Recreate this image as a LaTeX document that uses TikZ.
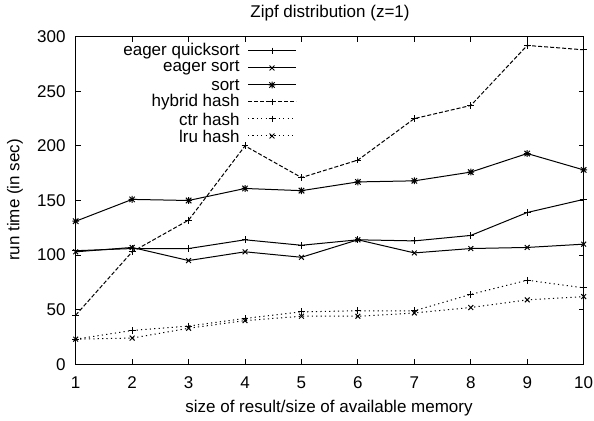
\documentclass[tikz,border=0pt]{standalone}
\usepackage{fontspec}
\setmainfont{Liberation Sans}
\usepackage{tikz}
\usetikzlibrary{plotmarks}

% gnuplot style star: a plus laid over a cross
\pgfdeclareplotmark{gpstar}{%
  \pgfpathmoveto{\pgfqpoint{-\pgfplotmarksize}{0pt}}%
  \pgfpathlineto{\pgfqpoint{\pgfplotmarksize}{0pt}}%
  \pgfpathmoveto{\pgfqpoint{0pt}{-\pgfplotmarksize}}%
  \pgfpathlineto{\pgfqpoint{0pt}{\pgfplotmarksize}}%
  \pgfpathmoveto{\pgfqpoint{-.8\pgfplotmarksize}{-.8\pgfplotmarksize}}%
  \pgfpathlineto{\pgfqpoint{.8\pgfplotmarksize}{.8\pgfplotmarksize}}%
  \pgfpathmoveto{\pgfqpoint{-.8\pgfplotmarksize}{.8\pgfplotmarksize}}%
  \pgfpathlineto{\pgfqpoint{.8\pgfplotmarksize}{-.8\pgfplotmarksize}}%
  \pgfusepathqstroke}

\begin{document}
\begin{tikzpicture}[x=0.5pt, y=0.5pt,
                    every node/.style={font=\fontsize{8.5}{10}\selectfont, inner sep=0pt},
                    crv/.style={line width=0.5pt, black, mark size=1.7pt, mark options={solid}},
                    dsh/.style={crv, dash pattern=on 2pt off 1pt},
                    dtt/.style={crv, dash pattern=on 0.6pt off 1.6pt}]
\useasboundingbox (0,0) rectangle (594,421);

% frame and ticks
\draw[line width=0.6pt] (75.7,56.7) rectangle (583.7,384.3);
\foreach \i in {1,...,10}{
  \pgfmathsetmacro\px{75.7+(\i-1)*56.44}
  \draw[line width=0.5pt] (\px,56.7) -- ++(0,5) (\px,384.3) -- ++(0,-5);
  \node (xt\i) at (\px,38) {\i};
}
\foreach \v in {0,50,...,300}{
  \pgfmathsetmacro\py{56.7+\v*1.092}
  \draw[line width=0.5pt] (75.7,\py) -- ++(5,0) (583.7,\py) -- ++(-5,0);
  \node[anchor=east] (yt\v) at (66,\py) {\v};
}

% titles
\node (ttl) at (330,408) {Zipf distribution (z=1)};
\node (xlab) at (329,13) {size of result/size of available memory};
\node[rotate=90] (ylab) at (15,221) {run time (in sec)};

% data
\begin{scope}[shift={(19.26,56.7)}, x=28.22pt, y=0.546pt]
\draw[crv] plot[mark=+] coordinates {(1,104) (2,106) (3,106) (4,114) (5,109) (6,114) (7,113) (8,118) (9,139) (10,151)};
\draw[crv] plot[mark=x] coordinates {(1,103) (2,107) (3,95) (4,103) (5,98) (6,114) (7,102) (8,106) (9,107) (10,110)};
\draw[crv] plot[mark=gpstar] coordinates {(1,131) (2,151) (3,150) (4,161) (5,159) (6,167) (7,168) (8,176) (9,193) (10,178)};
\draw[dsh] plot[mark=+] coordinates {(1,45) (2,103) (3,132) (4,200) (5,171) (6,187) (7,225) (8,237) (9,292) (10,288)};
\draw[dtt] plot[mark=+] coordinates {(1,23) (2,31) (3,35) (4,42) (5,48) (6,49) (7,49) (8,64) (9,77) (10,70)};
\draw[dtt] plot[mark=x] coordinates {(1,23) (2,24) (3,33) (4,40) (5,44) (6,44) (7,47) (8,52) (9,59) (10,62)};
\end{scope}

% key
\foreach \nm/\st/\mk [count=\r] in {eager quicksort/crv/+, eager sort/crv/x, sort/crv/gpstar,
                                    hybrid hash/dsh/+, ctr hash/dtt/+, lru hash/dtt/x}{
  \pgfmathsetmacro\ly{387-17*\r}
  \node[anchor=east] (key\r) at (240,\ly) {\nm};
  \draw[\st] (248,\ly) -- (296,\ly);
  \draw[crv] plot[only marks, mark=\mk] coordinates {(272,\ly)};
}
\end{tikzpicture}
\end{document}
